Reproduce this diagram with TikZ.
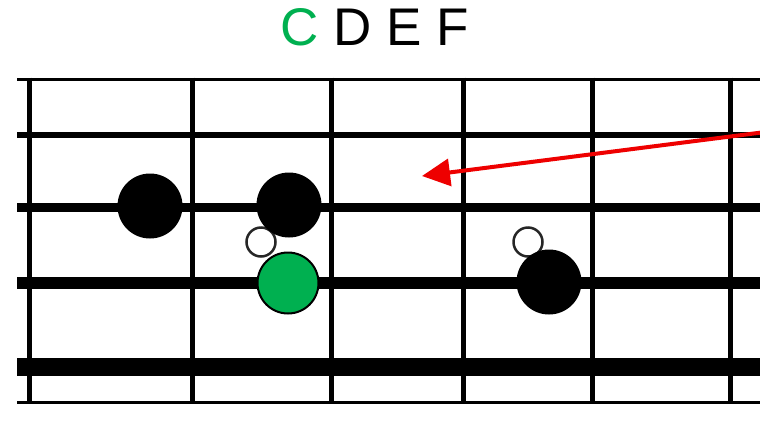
\documentclass[tikz,border=0pt]{standalone}
\usepackage{fontspec}
\setmainfont{Liberation Sans}
\usetikzlibrary{arrows.meta}
\definecolor{notegreen}{RGB}{0,176,80}
\definecolor{arrowred}{RGB}{238,0,0}
\begin{document}
\begin{tikzpicture}[x=1pt,y=-1pt,
  fretline/.style={line width=5pt, line cap=butt},
  stringline/.style={line cap=butt},
  fingerdot/.style={circle, fill=black, minimum size=65pt, inner sep=0pt},
  rootdot/.style={circle, fill=notegreen, draw=black, line width=2pt, minimum size=61pt, inner sep=0pt},
  hollowdot/.style={circle, fill=white, draw=black!85, line width=2.5pt, minimum size=29pt, inner sep=0pt},
  hint/.style={draw=arrowred, line width=4pt, -{Triangle[length=28pt,width=27pt]}},
  title/.style={font=\fontsize{53}{56}\selectfont, inner sep=0pt, anchor=base}
]
\useasboundingbox (0,0) rectangle (760,421);
\fill[white] (0,0) rectangle (760,421);

% title
\node[title] (ttl) at (374.5,45.5) {\textcolor{notegreen}{C} D E F};

% strings
\draw[stringline, line width=3pt] (17,79) -- (760,79);
\draw[stringline, line width=6pt] (17,135) -- (760,135);
\draw[stringline, line width=9pt] (17,207) -- (760,207);
\draw[stringline, line width=12pt] (17,283) -- (760,283);
\draw[stringline, line width=18pt] (17,367) -- (760,367);
\draw[stringline, line width=3pt] (17,402) -- (760,402);

% frets
\foreach \fx in {29,192,331,463,592,730}
  \draw[fretline] (\fx,77.5) -- (\fx,403.5);

% hollow markers
\node[hollowdot] (h1) at (261,242) {};
\node[hollowdot] (h2) at (528,242) {};

% dots
\node[fingerdot] (d1) at (150,206) {};
\node[fingerdot] (d2) at (289,205) {};
\node[fingerdot] (d3) at (549,282) {};
\node[rootdot] (root) at (288,283) {};

% arrow
\coordinate (astart) at (760,132.7);
\coordinate (aend) at (422,176);
\draw[hint] (astart) -- (aend);
\end{tikzpicture}
\end{document}
